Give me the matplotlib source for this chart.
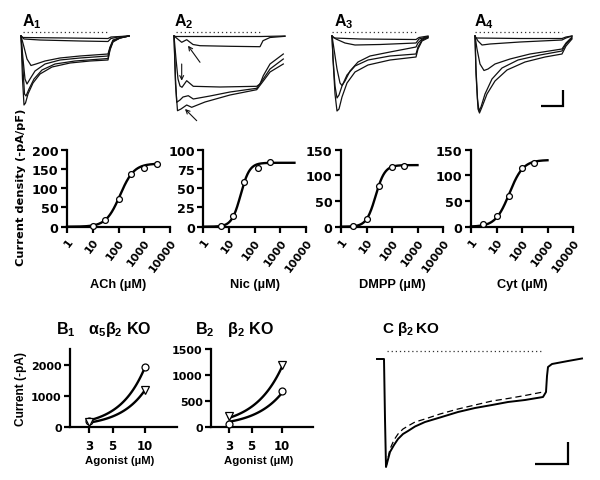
import numpy as np
import matplotlib
matplotlib.use("Agg")
import matplotlib.pyplot as plt
from matplotlib.ticker import NullFormatter, NullLocator
from matplotlib.transforms import ScaledTranslation

plt.rcParams['font.family'] = ['DejaVu Sans']
plt.rcParams['font.weight'] = 'bold'
plt.rcParams['mathtext.fontset'] = 'custom'
plt.rcParams['mathtext.rm'] = 'Liberation Sans:bold'
plt.rcParams['mathtext.bf'] = 'Liberation Sans:bold'
plt.rcParams['mathtext.it'] = 'Liberation Sans'
plt.rcParams['mathtext.default'] = 'it'

# ---------------- data: A traces (time, current; arbitrary units) ----------------
A1_t = [[0, 2, 87, 90, 108],
        [0, 3, 19, 59, 87, 90, 97, 108],
        [0, 3, 6, 10, 15, 24, 39, 59, 87, 89, 92, 99, 108],
        [0, 2, 4, 6, 9, 14, 24, 39, 59, 87, 89, 92, 99, 108],
        [0, 2, 3.5, 5, 8, 13, 21, 34, 54, 87, 89, 92, 99, 108],
        [0, 1.5, 3, 4.5, 7, 12, 19, 31, 49, 69, 87, 89, 92, 99, 108]]
A1_i = [[0, -1.5, -2.5, -1, 0],
        [0, -3, -4, -5, -5.5, -2.5, -1, 0],
        [0, -11, -23, -29.5, -28, -25, -22, -20, -18, -11, -4, -1.5, 0],
        [0, -23, -43, -48, -43, -35, -28, -24, -22, -20, -12, -5, -2, 0],
        [0, -33, -58, -60, -53, -43, -34, -28, -25, -22.5, -13, -5, -2, 0],
        [0, -43, -69, -67, -58, -47, -38, -31, -27, -25, -24, -14, -6, -2, 0]]

A2_t = [[0, 2, 87, 111],
        [0, 7.7, 12.7, 19, 26, 56, 86, 89, 96, 111],
        [0, 2, 4, 6, 8, 12.7, 19.3, 46, 82.7, 86, 89.3, 96, 109.3],
        [0, 1.5, 2.7, 6, 9, 14.3, 19.3, 36, 56, 82.7, 89.3, 96, 109.3],
        [0, 1.5, 3.5, 7, 12.7, 17.7, 31, 56, 82.7, 89.3, 96, 109.3]]
A2_i = [[0, -0.5, -0.5, 0],
        [0, -6.3, -3.7, -8.5, -9.7, -10.3, -10.7, -4.7, -1.5, -0.3],
        [0, -23, -43, -50, -51.3, -44.7, -50.3, -51, -50.3, -48, -39.7, -28, -18],
        [0, -43, -66.3, -64, -61, -59.7, -63, -60, -56, -52.3, -43, -33, -23],
        [0, -48, -74.7, -73, -69, -71.3, -66, -59, -53.7, -45, -36, -28]]

A3_t = [[0, 2, 28, 84, 87, 96],
        [0, 4, 13, 23, 48, 84, 87, 96],
        [0, 2, 5, 8, 10, 13, 18, 26, 38, 58, 84, 86, 90, 96],
        [0, 1, 3, 5, 7, 10, 15, 23, 36, 58, 84, 86, 90, 96],
        [0, 1, 3, 5, 7, 10, 15, 23, 36, 58, 84, 86, 90, 96]]
A3_i = [[0, -2, -3, -3.5, -1.5, 0],
        [0, -3, -7, -9, -8.5, -7, -3, -0.5],
        [0, -13, -33, -47, -49.5, -45, -35, -26, -20, -16, -11, -7, -3, -1],
        [0, -23, -58, -75, -73, -61, -47, -36, -29, -24, -21, -13, -5, -2],
        [0, -22, -50, -62, -59, -50, -39, -30, -24, -20, -18, -11, -4, -1.5]]

A4_t = [[0, 1, 45, 87, 91, 97],
        [0, 3, 7, 15, 45, 87, 91, 97],
        [0, 2, 5, 9, 13, 20, 35, 55, 87, 91, 97],
        [0, 1, 2.5, 4, 6, 10, 17, 27, 43, 65, 87, 91, 97],
        [0, 1, 3, 4.5, 7, 12, 20, 32, 50, 70, 87, 91, 97]]
A4_i = [[0, -2, -2.5, -2.5, -1, 0],
        [0, -5, -9, -8, -6, -4, -2, 0],
        [0, -13, -28, -34.5, -33, -28, -23, -18, -13, -7, -1],
        [0, -33, -63, -75, -71, -58, -43, -32, -24, -19, -15, -8, -2],
        [0, -38, -73, -77, -71, -58, -45, -34, -26, -21, -18, -10, -3]]

A_app_start = [1.7, 2, 0, 0]
A_app_end = [87, 87, 86, 87]

# A2 arrows (tail t, tail i, head t, head i)
A2_arrows = [(26, -26.3, 14, -9.7), (7.7, -28, 7.7, -44.7), (22.7, -84.7, 11, -73)]

# ---------------- data: dose-response ----------------
ach_dose = [10, 30, 100, 300, 1000, 3000]
ach_resp = [3, 17, 73, 137, 153, 162]
nic_dose = [5, 15, 40, 130, 400]
nic_resp = [1, 14, 58, 76, 84]
dmpp_dose = [3, 10, 30, 100, 300]
dmpp_resp = [1, 15, 79, 117, 118]
cyt_dose = [3, 10, 30, 100, 300]
cyt_resp = [5, 20, 59, 115, 124]
# Hill fit parameters: (max, EC50, nH, last decade of fitted line)
ach_fit = (164, 115, 1.6, 3.5)
nic_fit = (83, 28.5, 2.5, 3.55)
dmpp_fit = (120, 22.8, 2.4, 3.0)
cyt_fit = (130, 32, 1.6, 3.0)
dr_labels = ['ACh (µM)', 'Nic (µM)', 'DMPP (µM)', 'Cyt (µM)']
dr_yticks = [[0, 50, 100, 150, 200], [0, 25, 50, 75, 100], [0, 50, 100, 150], [0, 50, 100, 150]]
dr_xticks = [1, 10, 100, 1000, 10000]
dr_xticklabels = ['1', '10', '100', '1000', '10000']

# ---------------- data: B panels ----------------
b_conc = [3, 10]
b1_circle = [180, 1930]
b1_tri = [165, 1180]
b1_circle_fit = [200, 1900]
b1_tri_fit = [130, 1170]
b2_circle = [50, 683]
b2_tri = [212, 1190]
b2_circle_fit = [95, 660]
b2_tri_fit = [170, 1170]
b_xticks = [3, 5, 10]

# ---------------- data: C trace ----------------
C_t = [-7, 0, 1, 2, 6, 10, 14, 19, 24, 31, 41, 56, 74, 91, 108, 124, 141, 159,
       162, 163, 164, 168, 176, 184, 198]
C_i = [0, 0, -60, -108, -93, -86, -80, -75, -72, -67.5, -63, -58.5, -53, -49, -46,
       -43, -41, -38, -33, -17, -8, -5, -3.5, -2, 0.5]
C_dash_t = [2, 6, 10, 14, 19, 24, 31, 41, 56, 74, 91, 108, 124, 141, 159]
C_dash_i = [-108, -90, -81, -75, -70, -67, -63, -60, -55, -50, -46, -42, -39.5, -36.5, -33]
C_app = (2.7, 159.3)

# ---------------- figure ----------------
W, H = 600, 481
fig = plt.figure(figsize=(W / 100, H / 100), dpi=100)


def ax_px(l, t, r, b):
    return fig.add_axes([l / W, 1 - b / H, (r - l) / W, (b - t) / H])


def ftext(x, y, s, **kw):
    return fig.text(x / W, 1 - y / H, s, **kw)


TRACE_COL = '#111111'
A_x0 = [21, 174, 332, 475]
A_ts = [A1_t, A2_t, A3_t, A4_t]
A_is = [A1_i, A2_i, A3_i, A4_i]
A_names = [r'$\mathrm{A}_\mathrm{1}$', r'$\mathrm{A}_\mathrm{2}$',
           r'$\mathrm{A}_\mathrm{3}$', r'$\mathrm{A}_\mathrm{4}$']
A_lab_x = [22.5, 173.5, 333.5, 473.5]

for k in range(4):
    x0 = A_x0[k]
    ax = ax_px(x0 - 3, 25, x0 + 112, 125)
    ax.set_xlim(-3, 112)
    ax.set_ylim(-88, 12)
    ax.axis('off')
    for tt, ii in zip(A_ts[k], A_is[k]):
        ax.plot(tt, ii, color=TRACE_COL, lw=0.9, solid_joinstyle='round')
    ax.plot([A_app_start[k], A_app_end[k]], [4.5, 4.5], color='#333333', lw=0.9,
            linestyle=(0, (1, 2.3)))
    if k == 1:
        for (tx, ti, hx, hi) in A2_arrows:
            ax.annotate('', xy=(hx, hi), xytext=(tx, ti),
                        arrowprops=dict(arrowstyle='->', lw=0.8, color=TRACE_COL,
                                        shrinkA=0, shrinkB=0, mutation_scale=7))
    if k == 3:
        ax.plot([66, 88, 88], [-70, -70, -54], color='black', lw=1.6,
                solid_capstyle='butt', solid_joinstyle='miter')
    ftext(A_lab_x[k], 26.5, A_names[k], fontsize=11.5, va='baseline', ha='left')

# ---------------- dose-response panels ----------------
dr_l = [67, 203.3, 341, 471]
dr_r = [170, 306, 443, 573]
dr_dose = [ach_dose, nic_dose, dmpp_dose, cyt_dose]
dr_resp = [ach_resp, nic_resp, dmpp_resp, cyt_resp]
dr_fit = [ach_fit, nic_fit, dmpp_fit, cyt_fit]
dr_lab_x = [118.5, 254.5, 392, 522]


def style_axes(ax, lw=1.6):
    for s in ['top', 'right']:
        ax.spines[s].set_visible(False)
    for s in ['left', 'bottom']:
        ax.spines[s].set_linewidth(lw)
    ax.tick_params(direction='out', length=4, width=lw, which='major')


def kill_minor(ax):
    ax.xaxis.set_minor_locator(NullLocator())
    ax.xaxis.set_minor_formatter(NullFormatter())


shift = ScaledTranslation(2 / 100, -2 / 100, fig.dpi_scale_trans)

for k in range(4):
    ax = ax_px(dr_l[k], 150.7, dr_r[k], 227.7)
    style_axes(ax)
    ax.set_xscale('log')
    ax.set_xlim(1, 10000)
    kill_minor(ax)
    yt = dr_yticks[k]
    ax.set_ylim(0, yt[-1])
    ax.set_yticks(yt)
    ax.set_yticklabels([str(v) for v in yt], fontsize=9.2)
    ax.set_xticks(dr_xticks)
    ax.set_xticklabels(dr_xticklabels, fontsize=7.9, rotation=53, ha='right',
                       va='top', rotation_mode='anchor')
    for lbl in ax.get_xticklabels():
        lbl.set_transform(lbl.get_transform() + shift)
    ax.tick_params(axis='x', pad=3)
    ax.tick_params(axis='y', pad=2)
    top, ec50, nh, lastdec = dr_fit[k]
    cc = np.logspace(0, lastdec, 300)
    ax.plot(cc, top / (1 + (ec50 / cc) ** nh), color='black', lw=1.7, clip_on=False)
    ax.plot(dr_dose[k], dr_resp[k], 'o', ms=4.2, mfc='white', mec='black', mew=0.9,
            clip_on=False, zorder=5)
    ftext(dr_lab_x[k], 285, dr_labels[k], fontsize=9.2, ha='center', va='center',
          family='Liberation Sans')

ftext(21.5, 187.5, 'Current density (-pA/pF)', fontsize=8.2, rotation=90,
      ha='center', va='center')

# ---------------- B panels ----------------
b_specs = [
    (70, 177, 2500, [0, 1000, 2000], b1_circle, b1_tri, b1_circle_fit, b1_tri_fit, 120),
    (211, 313, 1500, [0, 500, 1000, 1500], b2_circle, b2_tri, b2_circle_fit, b2_tri_fit, 259),
]
for (l, r, ymax, yt, circ, tri, cfit, tfit, labx) in b_specs:
    ax = ax_px(l, 350, r, 427.7)
    style_axes(ax)
    ax.set_xscale('log')
    ax.set_xlim(2, 20)
    kill_minor(ax)
    ax.set_ylim(0, ymax)
    ax.set_yticks(yt)
    ax.set_yticklabels([str(v) for v in yt], fontsize=8)
    ax.set_xticks(b_xticks)
    ax.set_xticklabels([str(v) for v in b_xticks], fontsize=8.5)
    ax.tick_params(axis='x', pad=5)
    ax.tick_params(axis='y', pad=2)
    xx = np.linspace(b_conc[0], b_conc[1], 100)
    for fit in (cfit, tfit):
        n = np.log(fit[1] / fit[0]) / np.log(b_conc[1] / b_conc[0])
        ax.plot(xx, fit[0] * (xx / b_conc[0]) ** n, color='black', lw=1.7)
    ax.plot(b_conc, circ, 'o', ms=5, mfc='white', mec='black', mew=0.9, zorder=5,
            clip_on=False)
    ax.plot(b_conc, tri, 'v', ms=5.5, mfc='white', mec='black', mew=0.9, zorder=5,
            clip_on=False)
    ftext(labx, 461.5, 'Agonist (µM)', fontsize=8.2, ha='center', va='center',
          family='Liberation Sans')

ftext(21.5, 389, 'Current (-pA)', fontsize=8.6, rotation=90, ha='center',
      va='center', family='Liberation Sans')

ftext(56.5, 334.3, r'$\mathrm{B}_\mathrm{1}\ \ \ \alpha_\mathrm{5}\beta_\mathrm{2}\ \mathrm{KO}$',
      fontsize=11.5, va='baseline', ha='left')
ftext(195, 334.3, r'$\mathrm{B}_\mathrm{2}\ \ \ \beta_\mathrm{2}\ \mathrm{KO}$',
      fontsize=11.5, va='baseline', ha='left')
ftext(381.5, 333.5, r'$\mathrm{C}\ \beta_\mathrm{2}\,\mathrm{KO}$',
      fontsize=11, va='baseline', ha='left')

# ---------------- C panel ----------------
axc = ax_px(370, 345, 592, 475)
axc.set_xlim(-14, 208)
axc.set_ylim(-115, 15)
axc.axis('off')
axc.plot(C_t, C_i, color='black', lw=1.4, solid_joinstyle='round')
axc.plot(C_dash_t, C_dash_i, color='black', lw=0.9, dashes=(5, 3))
axc.plot(C_app, [7.7, 7.7], color='#333333', lw=0.9, linestyle=(0, (1, 2.3)))
axc.plot([151, 184, 184], [-105, -105, -83], color='black', lw=1.6,
         solid_capstyle='butt', solid_joinstyle='miter')

fig.savefig('out.png', dpi=100)
